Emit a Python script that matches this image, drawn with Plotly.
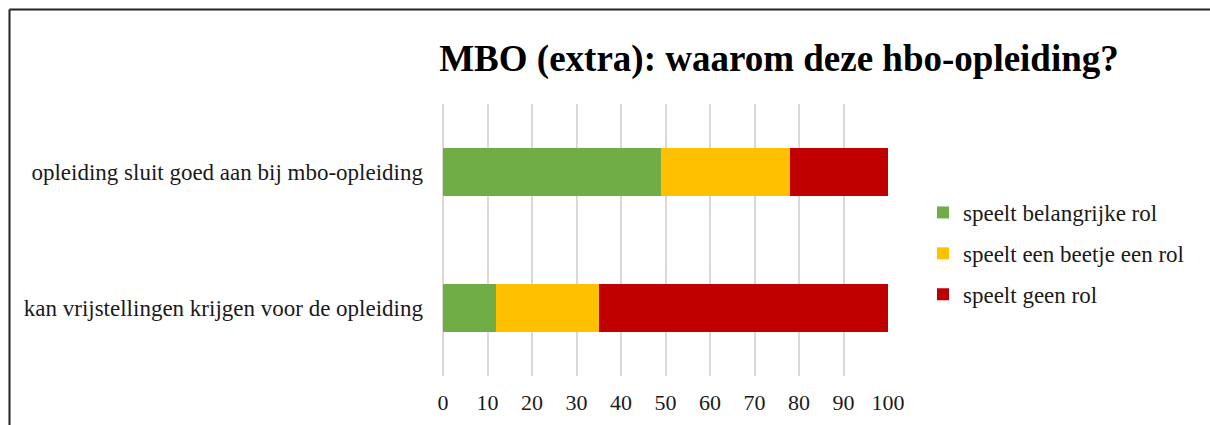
import plotly.graph_objects as go

categories = ["opleiding sluit goed aan bij mbo-opleiding",
              "kan vrijstellingen krijgen voor de opleiding"]
series_names = ["speelt belangrijke rol", "speelt een beetje een rol", "speelt geen rol"]
belangrijk = [49, 12]
beetje = [29, 23]
geen = [22, 65]
colors = ["#70AD47", "#FFC000", "#C00000"]
tick_vals = [0, 10, 20, 30, 40, 50, 60, 70, 80, 90, 100]

FONT = "Liberation Serif"
W, H = 1210, 425
L, R, T, B = 443, 1210 - 888, 104, 425 - 376
pw, ph = W - L - R, H - T - B

fig = go.Figure()
for i, (name, vals) in enumerate(zip(series_names, [belangrijk, beetje, geen])):
    fig.add_trace(go.Bar(
        y=categories, x=vals, name=name, orientation="h",
        marker=dict(color=colors[i], line=dict(width=0)),
        width=0.35, legendgroup=f"g{i}", hoverinfo="x+name",
    ))

def px_x(p):
    return (p - L) / pw

def px_y(p):
    return (H - B - p) / ph

shapes = [
    dict(type="line", xref="paper", yref="paper", x0=px_x(9.5), x1=px_x(1220),
         y0=px_y(9.5), y1=px_y(9.5), line=dict(color="#222222", width=2)),
    dict(type="line", xref="paper", yref="paper", x0=px_x(9.5), x1=px_x(9.5),
         y0=px_y(9.5), y1=px_y(440), line=dict(color="#222222", width=2)),
]

fig.update_layout(
    width=W, height=H,
    margin=dict(l=L, r=R, t=T, b=B, autoexpand=False),
    barmode="stack",
    plot_bgcolor="white", paper_bgcolor="white",
    font=dict(family=FONT, size=22, color="#1a1a1a"),
    title=dict(text="<b>MBO (extra): waarom deze hbo-opleiding?</b>",
               font=dict(family=FONT, size=37, color="#000000"),
               x=779 / W, xref="container", xanchor="center",
               y=1 - 58 / H, yref="container", yanchor="middle"),
    xaxis=dict(range=[0, 100], tickvals=tick_vals, showgrid=True,
               gridcolor="#d9d9d9", gridwidth=1.5, zeroline=True,
               zerolinecolor="#d9d9d9", zerolinewidth=1.5,
               showline=False, ticks="", tickfont=dict(size=22),
               ticklabelstandoff=11, automargin=False, fixedrange=True),
    yaxis=dict(autorange="reversed", showgrid=False, showline=False,
               ticks="", tickfont=dict(size=23), ticklabelstandoff=19,
               automargin=False, fixedrange=True),
    legend=dict(x=px_x(923), xanchor="left", y=px_y(191), yanchor="top",
                traceorder="grouped", tracegroupgap=8,
                font=dict(size=23), bgcolor="rgba(0,0,0,0)"),
    shapes=shapes,
)

fig.write_html(
    "out.html",
    config={"displayModeBar": False},
    post_script="document.body.style.margin='0';document.body.style.overflow='hidden';",
)
